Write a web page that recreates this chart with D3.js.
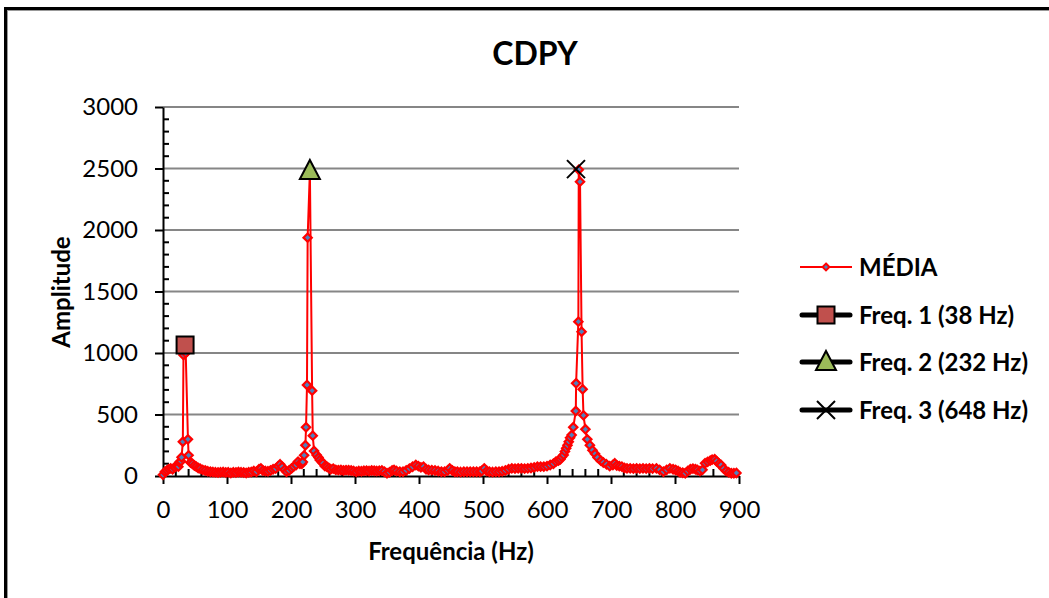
<!DOCTYPE html>
<html><head><meta charset="utf-8">
<script src="https://cdn.jsdelivr.net/npm/d3@7"></script>
<style>body{margin:0;background:#fff}svg{display:block}</style>
</head><body>
<script>
const title = "CDPY";
const xLabel = "Frequência (Hz)";
const yLabel = "Amplitude";
const xTicks = [0,100,200,300,400,500,600,700,800,900];
const yTicks = [0,500,1000,1500,2000,2500,3000];
const freq = [0,3,6,9,12,15,18,21,24,25.5,28,29,31,32,35.5,39,40,43,46,49,52,55,58,62,66,70,74,78,82,86,90,94,98,102,106,110,114,118,122,126,130,134,138,142,146,150,153,156,160,164,168,172,176,180,183,186,190,193,197,201,204,208,211,214,217,218.5,220.5,222.5,223.5,225,226,229.5,233,234,236,240,243,245,248,250,253,256,259,262,266,270,274,278,282,286,290,294,298,302,306,310,314,318,322,326,330,334,338,342,346,350,354,358,361,365,370,375,380,385,390,395,399,403,407,411,415,420,425,430,435,440,445,448,452,456,460,465,470,475,480,485,490,495,498,502,506,510,515,520,525,530,535,540,545,550,555,560,565,570,575,580,585,590,595,600,605,610,614,618,621,623,626,628,630,632,634,636,638.5,641,645,645.5,649,649.6,651.6,654,655.7,657,660,663,667,671,675,679,684,688,693,698,703,706,709,713,717,721,725,730,735,740,745,750,755,760,765,771,776,782,787,792,797,801,805,808,812,816,820,824,828,832,835,839,843,847,851,855,858,862,865,869,872,876,880,884,888,892,896];
const media = [10,35,45,55,62,55,70,80,76,111,120,152,279,984,1000,298,168,110,100,85,76,65,60,50,45,38,35,32,30,28,30,32,28,30,25,30,28,32,30,28,25,30,32,40,35,55,62,45,40,38,45,55,60,80,95,75,50,35,45,62,76,90,117,100,100,114,168,250,396,740,1938,2480,694,328,203,171,150,130,115,103,80,76,65,55,60,50,48,49,45,48,47,45,40,35,40,38,42,43,40,45,43,40,42,45,35,22,30,45,49,40,35,35,45,60,75,89,80,70,76,55,49,48,45,40,35,35,45,62,45,35,35,32,35,35,35,35,35,35,40,62,40,35,32,35,35,38,45,55,62,60,62,62,60,62,65,70,76,76,76,80,89,100,117,125,136,155,171,200,225,250,279,310,333,396,528,754,1255,2490,2393,1173,705,493,380,298,250,210,180,150,125,110,95,80,90,103,85,80,76,65,62,62,60,62,60,62,60,62,60,62,50,35,50,62,55,49,40,30,27,22,40,55,60,55,49,40,50,103,115,125,133,136,120,100,89,60,40,30,22,22,25,30,38];
const seriesName = "MÉDIA";
const peakNames = ["Freq. 1 (38 Hz)","Freq. 2 (232 Hz)","Freq. 3 (648 Hz)"];
const peakFreq = [34.5,229.5,645.3];
const peakAmp = [1065,2480,2495];
const peakShape = ["square","triangle","cross"];
const peakColor = ["#C0504D","#9BBB59","none"];

const W=1049,H=598;
const svg=d3.select("body").append("svg").attr("width",W).attr("height",H);
const FONT="Lato, 'Open Sans', sans-serif";
const FS=24;

// frame
svg.append("rect").attr("x",5.5).attr("y",8.5).attr("width",1200).attr("height",800)
  .attr("fill","none").attr("stroke","#000").attr("stroke-width",3);
svg.append("rect").attr("x",7.5).attr("y",10.5).attr("width",1200).attr("height",800)
  .attr("fill","none").attr("stroke","#999").attr("stroke-width",1);

const x=d3.scaleLinear().domain([0,900]).range([163,739]);
const y=d3.scaleLinear().domain([0,3000]).range([476,107]);

// gridlines
svg.append("g").selectAll("line").data(yTicks.filter(d=>d>0)).join("line")
  .attr("x1",163).attr("x2",739).attr("y1",d=>y(d)).attr("y2",d=>y(d))
  .attr("stroke","#868686").attr("stroke-width",2);

// minor ticks
const xMinor=d3.range(0,901,20).filter(d=>d%100!==0);
svg.append("g").selectAll("line").data(xMinor).join("line")
  .attr("x1",d=>x(d)).attr("x2",d=>x(d)).attr("y1",476).attr("y2",469)
  .attr("stroke","#000").attr("stroke-width",2);
const yMinor=d3.range(0,3001,100).filter(d=>d%500!==0);
svg.append("g").selectAll("line").data(yMinor).join("line")
  .attr("x1",163).attr("x2",169).attr("y1",d=>y(d)).attr("y2",d=>y(d))
  .attr("stroke","#000").attr("stroke-width",2);

// axes
const xAxis=svg.append("g").attr("transform","translate(0,476)")
  .call(d3.axisBottom(x).tickValues(xTicks).tickFormat(d3.format("d")).tickSize(8).tickPadding(17).tickSizeOuter(0));
const yAxis=svg.append("g").attr("transform","translate(163,0)")
  .call(d3.axisLeft(y).tickValues(yTicks).tickFormat(d3.format("d")).tickSize(8).tickPadding(17).tickSizeOuter(0));
[xAxis,yAxis].forEach(g=>{
  g.select(".domain").attr("stroke","#000").attr("stroke-width",2);
  g.selectAll(".tick line").attr("stroke","#000").attr("stroke-width",2);
  g.selectAll("text").attr("font-family",FONT).attr("font-size",FS).attr("fill","#000");
});

// series line
const pts=freq.map((f,i)=>[f,media[i]]);
svg.append("path").datum(pts)
  .attr("d",d3.line().x(d=>x(d[0])).y(d=>y(d[1])))
  .attr("fill","none").attr("stroke","#FF0000").attr("stroke-width",2);
const diamond=d3.symbol().type(d3.symbolDiamond2).size(44);
svg.append("g").selectAll("path").data(pts).join("path")
  .attr("transform",d=>`translate(${x(d[0])},${y(d[1])})`)
  .attr("d",diamond).attr("fill","#4F81BD").attr("stroke","#FF0000").attr("stroke-width",2.2);

function drawMarker(g,shape,color,cx,cy){
  if(shape==="square"){
    g.append("rect").attr("x",cx-8.5).attr("y",cy-8.5).attr("width",17).attr("height",17)
      .attr("fill",color).attr("stroke","#000").attr("stroke-width",2);
  } else if(shape==="triangle"){
    g.append("path").attr("d",`M${cx},${cy-11}L${cx+10},${cy+8}L${cx-10},${cy+8}Z`)
      .attr("fill",color).attr("stroke","#000").attr("stroke-width",2);
  } else {
    g.append("path").attr("d",`M${cx-9},${cy-9}L${cx+9},${cy+9}M${cx+9},${cy-9}L${cx-9},${cy+9}`)
      .attr("stroke","#000").attr("stroke-width",2);
  }
}
const pg=svg.append("g");
peakFreq.forEach((f,i)=>drawMarker(pg,peakShape[i],peakColor[i],x(f),y(peakAmp[i])));

// title & labels
svg.append("text").attr("x",535).attr("y",65).attr("text-anchor","middle")
  .attr("font-family",FONT).attr("font-weight","bold").attr("font-size",32).text(title);
svg.append("text").attr("x",451).attr("y",560).attr("text-anchor","middle")
  .attr("font-family",FONT).attr("font-weight","bold").attr("font-size",FS).text(xLabel);
svg.append("text").attr("transform","translate(70,292) rotate(-90)").attr("text-anchor","middle")
  .attr("font-family",FONT).attr("font-weight","bold").attr("font-size",FS).text(yLabel);

// legend
const lg=svg.append("g");
const ly=[267,315,362,410];
lg.append("line").attr("x1",800).attr("x2",852).attr("y1",ly[0]).attr("y2",ly[0])
  .attr("stroke","#FF0000").attr("stroke-width",2);
lg.append("path").attr("transform",`translate(826,${ly[0]})`).attr("d",d3.symbol().type(d3.symbolDiamond2).size(30))
  .attr("fill","#4F81BD").attr("stroke","#FF0000").attr("stroke-width",2);
lg.append("text").attr("x",859).attr("y",ly[0]+8.5).attr("font-family",FONT)
  .attr("font-weight","bold").attr("font-size",FS).text(seriesName);
peakNames.forEach((n,i)=>{
  const yy=ly[i+1];
  lg.append("line").attr("x1",802).attr("x2",850).attr("y1",yy).attr("y2",yy)
    .attr("stroke","#000").attr("stroke-width",5).attr("stroke-linecap","round");
  drawMarker(lg,peakShape[i],peakColor[i],826,yy);
  lg.append("text").attr("x",859).attr("y",yy+8.5).attr("font-family",FONT)
    .attr("font-weight","bold").attr("font-size",FS).text(n);
});
</script>
</body></html>
